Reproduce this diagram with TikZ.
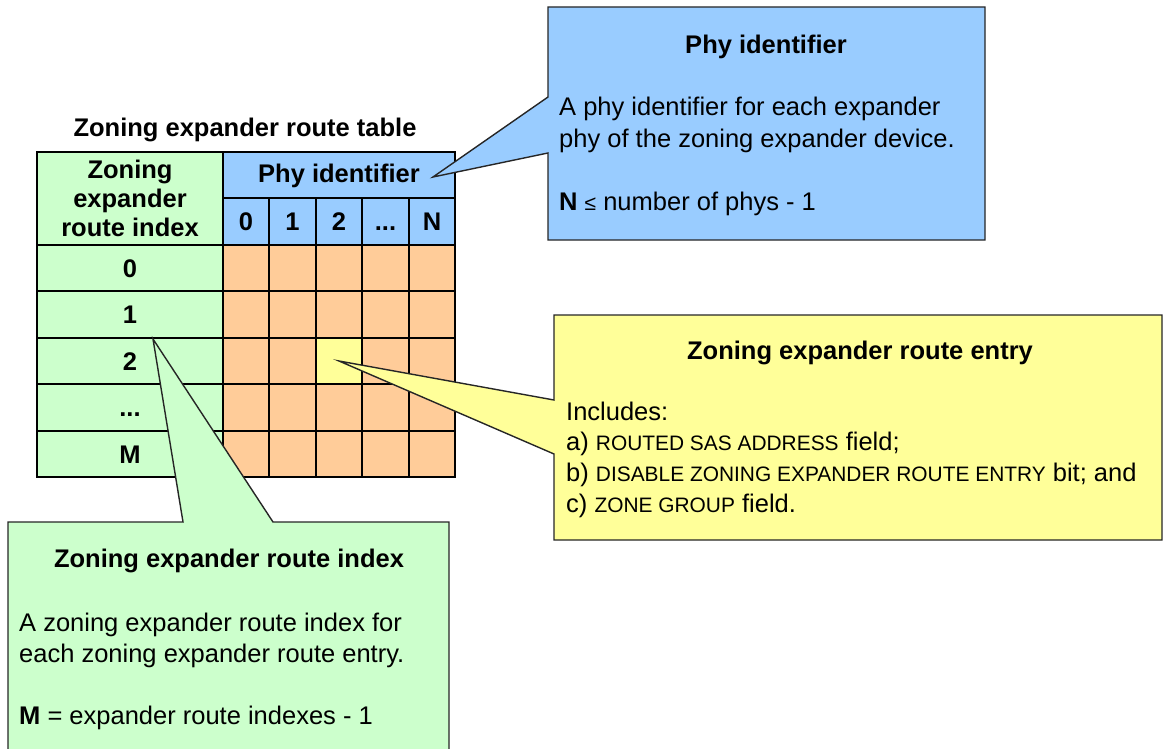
\documentclass[tikz,border=0pt]{standalone}
\usepackage{fontspec}
\setmainfont{Liberation Sans}
\usetikzlibrary{positioning}

\definecolor{idxgreen}{HTML}{CCFFCC}
\definecolor{phyblue}{HTML}{99CCFF}
\definecolor{cellorange}{HTML}{FFCC99}
\definecolor{entryyellow}{HTML}{FFFF99}

\newcommand{\bigfont}{\fontsize{25.5}{29}\selectfont}
\newcommand{\fieldname}[1]{{\fontsize{20.9}{31}\selectfont #1}}
\newcommand{\threedots}{...}
\newcommand{\smallleq}{{\fontsize{21}{31}\selectfont ≤}}

\tikzset{
    grid line/.style={line width=1.6pt},
    callout/.style={line width=1.4pt, draw=black!85, line join=miter},
    cell/.style={font=\bigfont\bfseries, text height=18pt, text depth=0pt, inner sep=0pt},
    heading/.style={font=\bigfont\bfseries, inner sep=0pt, anchor=base},
    body/.style={font=\bigfont, inner sep=0pt, anchor=base west},
}

\begin{document}
\begin{tikzpicture}[x=1pt,y=-1pt]
    \useasboundingbox (0,0) rectangle (1164,749);
    \clip (0,0) rectangle (1164,749);

    % route table
    \fill[idxgreen] (37,152) rectangle (223,477);
    \fill[phyblue] (223,152) rectangle (455,245);
    \fill[cellorange] (223,245) rectangle (455,477);
    \fill[entryyellow] (316,338) rectangle (362,384);

    \draw[grid line] (37,152) rectangle (455,477);
    \draw[grid line] (223,152) -- (223,477);
    \draw[grid line] (223,198) -- (455,198);
    \foreach \y in {245,291,338,384,431}
        \draw[grid line] (37,\y) -- (455,\y);
    \foreach \x in {269,316,362,409}
        \draw[grid line] (\x,198) -- (\x,477);

    \node[heading] (tabletitle) at (245,137) {Zoning expander route table};
    \node[font=\bigfont\bfseries, align=center, inner sep=0pt] (idxhead) at (130,198) {Zoning\\expander\\route index};
    \node[cell] (phyhead) at (339,173) {Phy identifier};

    \foreach \x/\lbl/\nm in {246/0/p0, 292.5/1/p1, 339/2/p2, 385.5/\threedots/pd, 432/N/pN}
        \node[cell] (\nm) at (\x,221.5) {\lbl};
    \foreach \y/\lbl/\nm in {268/0/r0, 314.5/1/r1, 361/2/r2, 407.5/\threedots/rd, 454/M/rM}
        \node[cell] (\nm) at (130,\y) {\lbl};

    % callouts
    \coordinate (phytip) at (433,177);
    \coordinate (entrytip) at (339,361);
    \coordinate (idxtip) at (153,339);

    \draw[callout, fill=phyblue] (548,7) -- (985,7) -- (985,240) -- (548,240)
        -- (548,153) -- (phytip) -- (548,97) -- cycle;
    \draw[callout, fill=entryyellow] (554,315) -- (1162,315) -- (1162,540) -- (554,540)
        -- (554,454) -- (entrytip) -- (554,400) -- cycle;
    \draw[callout, fill=idxgreen] (8,522) -- (183,522) -- (idxtip) -- (273,522)
        -- (449,522) -- (449,760) -- (8,760) -- cycle;

    \node[heading] (phytitle) at (766,54) {Phy identifier};
    \node[body] (phyline1) at (559,116) {A phy identifier for each expander};
    \node[body] (phyline2) at (559,147) {phy of the zoning expander device.};
    \node[body] (phyline3) at (559,210) {\textbf{N} \smallleq{} number of phys - 1};

    \node[heading] (entrytitle) at (860,359) {Zoning expander route entry};
    \node[body] (entryline1) at (566,420) {Includes:};
    \node[body] (entryline2) at (566,450) {a) \fieldname{ROUTED SAS ADDRESS} field;};
    \node[body] (entryline3) at (566,481) {b) \fieldname{DISABLE ZONING EXPANDER ROUTE ENTRY} bit; and};
    \node[body] (entryline4) at (566,512) {c) \fieldname{ZONE GROUP} field.};

    \node[heading] (idxtitle) at (229,567) {Zoning expander route index};
    \node[body] (idxline1) at (19,631) {A zoning expander route index for};
    \node[body] (idxline2) at (19,662) {each zoning expander route entry.};
    \node[body] (idxline3) at (19,724) {\textbf{M} = expander route indexes - 1};
\end{tikzpicture}
\end{document}
